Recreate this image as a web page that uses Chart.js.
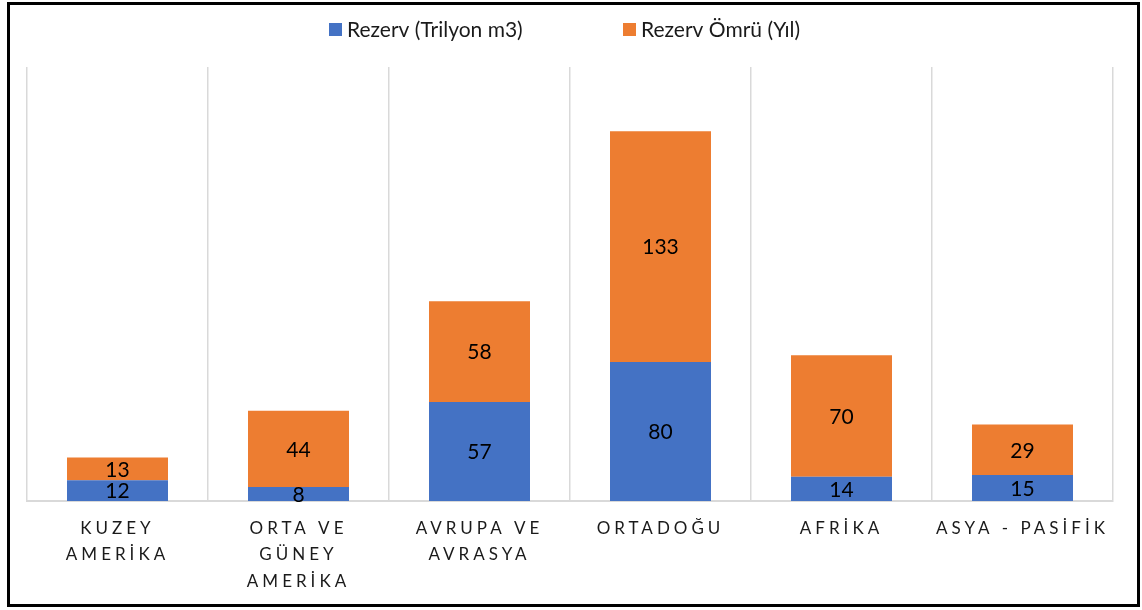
<!DOCTYPE html>
<html>
<head>
<meta charset="utf-8">
<script src="https://cdn.jsdelivr.net/npm/chart.js@4.4.1/dist/chart.umd.min.js"></script>
<style>
  html, body { margin: 0; padding: 0; background: #fff; }
  #box {
    position: absolute; left: 7px; top: 2px;
    width: 1127px; height: 599px;
    border: 3px solid #000;
  }
</style>
</head>
<body>
<div id="box"><canvas id="chart"></canvas></div>
<script>
// --- data ---
const regions = [
  ['KUZEY', 'AMERİKA'],
  ['ORTA VE', 'GÜNEY', 'AMERİKA'],
  ['AVRUPA VE', 'AVRASYA'],
  ['ORTADOĞU'],
  ['AFRİKA'],
  ['ASYA - PASİFİK']
];
const reserveTcm = [12, 8, 57, 80, 14, 15];
const reserveLife = [13, 44, 58, 133, 70, 29];
const seriesNames = ['Rezerv (Trilyon m3)', 'Rezerv Ömrü (Yıl)'];

const BLUE = '#4472C4';
const ORANGE = '#ED7D31';
const FONT = 'Lato, "Open Sans", sans-serif';

// letter spaced axis labels, reset before value labels
const spacing = {
  id: 'spacing',
  beforeDraw(chart) { chart.ctx.letterSpacing = '4px'; },
  afterDatasetsDraw(chart) { chart.ctx.letterSpacing = '0px'; }
};

// value labels in the middle of each segment
const valueLabels = {
  id: 'valueLabels',
  afterDatasetsDraw(chart) {
    const ctx = chart.ctx;
    ctx.save();
    ctx.font = '21px ' + FONT;
    ctx.fillStyle = '#000';
    ctx.textAlign = 'center';
    ctx.textBaseline = 'middle';
    chart.data.datasets.forEach((ds, i) => {
      chart.getDatasetMeta(i).data.forEach((bar, j) => {
        ctx.fillText(ds.data[j], bar.x, (bar.y + bar.base) / 2 + 1);
      });
    });
    ctx.restore();
  }
};

// legend drawn by hand so the item gap matches
const topLegend = {
  id: 'topLegend',
  afterDraw(chart) {
    const ctx = chart.ctx;
    const starts = [319, 613];
    ctx.save();
    ctx.letterSpacing = '0px';
    ctx.font = '21px ' + FONT;
    ctx.textBaseline = 'middle';
    ctx.textAlign = 'left';
    chart.data.datasets.forEach((ds, i) => {
      const x = starts[i];
      ctx.fillStyle = ds.backgroundColor;
      ctx.fillRect(x, 18, 13, 13);
      ctx.fillStyle = '#1a1a1a';
      ctx.fillText(ds.label, x + 18, 25);
    });
    ctx.restore();
  }
};

new Chart(document.getElementById('chart'), {
  type: 'bar',
  data: {
    labels: regions,
    datasets: [
      { label: seriesNames[0], data: reserveTcm, backgroundColor: BLUE },
      { label: seriesNames[1], data: reserveLife, backgroundColor: ORANGE }
    ]
  },
  options: {
    responsive: true,
    maintainAspectRatio: false,
    animation: false,
    barPercentage: 0.558,
    categoryPercentage: 1,
    layout: { padding: { left: 17, right: 24, top: 62, bottom: 0 } },
    plugins: {
      legend: { display: false },
      tooltip: { enabled: false }
    },
    scales: {
      x: {
        stacked: true,
        grid: { color: '#d9d9d9', lineWidth: 1.5, drawTicks: false },
        border: { color: '#d9d9d9', width: 2 },
        ticks: {
          color: '#1a1a1a',
          padding: 15,
          maxRotation: 0,
          autoSkip: false,
          font: { family: FONT, size: 17, lineHeight: 1.53 }
        },
        afterFit(scale) { scale.height = 103; }
      },
      y: {
        stacked: true,
        display: false,
        min: 0,
        max: 250
      }
    }
  },
  plugins: [spacing, valueLabels, topLegend]
});
</script>
</body>
</html>
